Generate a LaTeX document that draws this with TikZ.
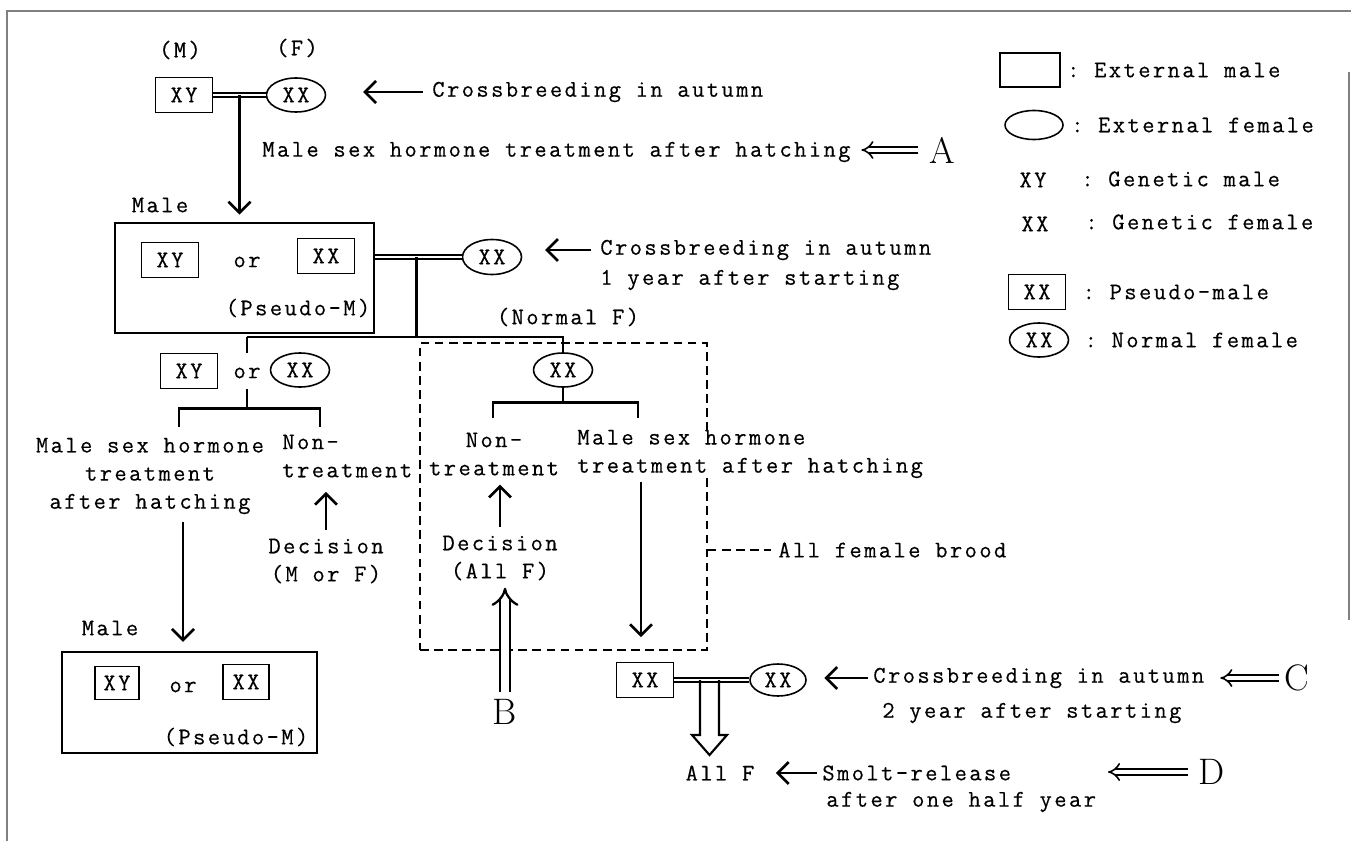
\documentclass[tikz,border=0pt]{standalone}
\usepackage{fontspec}
\setmonofont{Latin Modern Mono}[LetterSpace=10, FakeBold=0.4]
\usetikzlibrary{positioning,calc,shapes.geometric,arrows.meta}

\tikzset{
  txt/.style={font=\ttfamily\fontsize{13.6}{16}\selectfont, inner sep=0pt, align=center},
  gbox/.style={txt, draw, line width=0.9pt, minimum width=1.14cm, minimum height=0.7cm},
  gell/.style={txt, draw, ellipse, line width=0.9pt, minimum width=1.18cm, minimum height=0.68cm},
  malebox/.style={draw, line width=1.6pt, inner sep=0pt},
  treeline/.style={line width=1.6pt},
  arr/.style={line width=1.5pt, -{Straight Barb[length=2.2mm, width=4.4mm]}},
  crossline/.style={double, double distance=1.6pt, line width=0.8pt},
  bigarr/.style={double, double distance=2.6pt, line width=0.9pt, -{Implies}},
  letr/.style={font=\fontsize{21}{21}\selectfont, inner sep=0pt},
  broodline/.style={draw, line width=0.8pt, dash pattern=on 5pt off 3pt},
}

\begin{document}
\begin{tikzpicture}[x=0.02cm, y=-0.02cm]
  \useasboundingbox (0,0) rectangle (1351,841);
  % frame
  \draw[gray, line width=0.8pt] (7,841) -- (7,11) -- (1351,11);
  \draw[gray, line width=0.8pt] (1349,72) -- (1349,620);

  % first crossing
  \node[txt] (mlbl) at (180,50) {(M)};
  \node[txt] (flbl) at (297,48) {(F)};
  \node[gbox] (p1m) at (184,95) {XY};
  \node[gell] (p1f) at (296,95) {XX};
  \draw[crossline] (p1m.east) -- (p1f.west);
  \coordinate (j1) at ($(p1m.east)!0.5!(p1f.west)$);
  \node[txt, anchor=west] (cb1) at (432,92) {Crossbreeding in autumn};
  \draw[arr, shorten <=5pt, shorten >=21pt] (cb1.west) -- (cb1.west -| p1f.east);
  \node[txt, anchor=west] (hormA) at (262,152) {Male sex hormone treatment after hatching};
  \node[letr] (letA) at (942,150) {A};
  \draw[bigarr, shorten <=6pt, shorten >=6pt] (letA.west) -- (letA.west -| hormA.east);

  % first male group
  \node[malebox, minimum width=5.18cm, minimum height=2.2cm] (male1) at (244.5,278) {};
  \node[txt] (male1lbl) at (160,205) {Male};
  \draw[arr, shorten >=4pt] (j1) -- (j1 |- male1.north);
  \node[gbox] (m1xy) at (170,260) {XY};
  \node[txt] (m1or) at (247,262) {or};
  \node[gbox] (m1xx) at (326,256) {XX};
  \node[txt] (m1ps) at (298,308) {(Pseudo-M)};

  % second crossing
  \node[gell, minimum height=0.7cm] (p2f) at (492,257) {XX};
  \draw[crossline] (male1.east |- p2f) -- (p2f.west);
  \coordinate (j2) at ($(male1.east |- p2f)!0.48!(p2f.west)$);
  \node[txt, anchor=west] (cb2) at (600,250) {Crossbreeding in autumn};
  \node[txt, anchor=west] (cb2b) at (600,280) {1 year after starting};
  \draw[arr, shorten <=5pt, shorten >=13pt] (cb2.west) -- (cb2.west -| p2f.east);
  \node[txt] (normF) at (568,317) {(Normal F)};

  % all female brood
  \node[broodline, minimum width=5.74cm, minimum height=6.14cm] (brood) at (563.5,496.5) {};
  \node[gell] (p4f) at (563,370) {XX};

  % left branch
  \node[gbox] (l3m) at (189,371) {XY};
  \node[txt] (l3or) at (247,373) {or};
  \node[gell] (l3f) at (300,370) {XX};
  \draw[treeline] (j2) -- ++(0,80) coordinate (j2b);
  \draw[treeline] (l3or |- j2b) -- (p4f.north |- j2b) -- (p4f.north);
  \draw[treeline] (l3or |- j2b) -- (l3or |- l3m.north);
  \draw[treeline] (l3or |- l3m.south) -- ++(0,19) coordinate (k3);
  \coordinate (t3l) at (179,427);
  \coordinate (t3r) at (320,427);
  \draw[treeline] (t3l) |- (k3) -| (t3r);
  \node[txt] (hl3) at (150,476) {Male sex hormone\\treatment\\after hatching};
  \node[txt, align=left, anchor=west] (nt3) at (282,456) {Non-\\treatment};
  \node[txt] (dec3) at (326,561) {Decision\\(M or F)};
  \draw[arr, shorten <=5pt, shorten >=8pt] (dec3.north) -- (dec3.north |- nt3.south);

  % second male group
  \coordinate (a3) at (183,522);
  \node[malebox, minimum width=5.1cm, minimum height=2.02cm] (male4) at (189.5,702.5) {};
  \draw[arr, shorten >=5pt] (a3) -- (a3 |- male4.north);
  \node[txt] (male4lbl) at (110,628) {Male};
  \node[gbox, minimum width=0.88cm, minimum height=0.66cm] (m4xy) at (117,683) {XY};
  \node[txt] (m4or) at (183,687) {or};
  \node[gbox, minimum width=0.92cm] (m4xx) at (246,682) {XX};
  \node[txt] (m4ps) at (236,737) {(Pseudo-M)};

  % right branch
  \draw[treeline] (p4f.south) -- ++(0,15) coordinate (k4);
  \coordinate (t4l) at (493,418);
  \coordinate (t4r) at (638,418);
  \draw[treeline] (t4l) |- (k4) -| (t4r);
  \node[txt] (nt4) at (494,454) {Non-\\treatment};
  \node[txt, align=left, anchor=west, fill=white] (hl4) at (577,454) {Male sex hormone\\treatment after hatching};
  \node[txt] (dec4) at (500,558) {Decision\\(All F)};
  \draw[arr, shorten <=5pt, shorten >=5pt] (dec4.north) -- (dec4.north |- nt4.south);
  \node[letr] (letB) at (505,712) {B};
  \draw[bigarr, double distance=4pt, line width=1.3pt, shorten <=4pt, shorten >=4pt] (letB.north) -- (letB.north |- dec4.south);
  \node[txt, anchor=west] (brlbl) at (778,550) {All female brood};
  \draw[broodline, shorten >=4pt] (brood.east |- brlbl) -- (brlbl.west);

  % third crossing
  \node[gbox] (p5m) at (645,680) {XX};
  \node[gell, minimum width=1.12cm, minimum height=0.64cm] (p5f) at (778,680) {XX};
  \draw[crossline] (p5m.east) -- (p5f.west);
  \coordinate (j5) at ($(p5m.east)!0.47!(p5f.west)$);
  \coordinate (a4) at (641,482);
  \draw[arr, shorten >=14pt] (a4) -- (a4 |- p5m.north);
  \draw[line width=1.2pt] (j5) ++(-9.5,0) -- ++(0,55) -- ++(-8,0) -- ++(17.5,20) -- ++(17.5,-20) -- ++(-8,0) -- ++(0,-55);
  \node[txt, anchor=west] (cb5) at (873,678) {Crossbreeding in autumn};
  \node[txt, anchor=west] (cb5b) at (882,713) {2 year after starting};
  \draw[arr, shorten <=3pt, shorten >=10pt] (cb5.west) -- (cb5.west -| p5f.east);
  \node[letr] (letC) at (1297,678) {C};
  \draw[bigarr, shorten <=3pt, shorten >=9pt] (letC.west) -- (letC.west -| cb5.east);

  % release
  \node[txt] (allF) at (720,773) {All F};
  \node[txt, anchor=west] (smolt) at (822,773) {Smolt-release};
  \node[txt, anchor=west] (smolt2) at (826,802) {after one half year};
  \draw[arr, shorten <=3pt, shorten >=12pt] (smolt.west) -- (smolt.west -| allF.east);
  \node[letr] (letD) at (1212,772) {D};
  \coordinate (dend) at (1108,772);
  \draw[bigarr, shorten <=6pt] (letD.west) -- (dend);

  % legend
  \node[draw, line width=0.9pt, minimum width=1.2cm, minimum height=0.68cm] (lgm) at (1030,70) {};
  \node[txt, right=0.12cm of lgm] (lgmt) {: External male};
  \node[draw, ellipse, line width=0.9pt, minimum width=1.16cm, minimum height=0.58cm] (lgf) at (1034,125) {};
  \node[txt, right=0.14cm of lgf] (lgft) {: External female};
  \node[txt] (lgxy) at (1033,180) {XY};
  \node[txt, anchor=west] (lgxyt) at (1081,179) {: Genetic male};
  \node[txt] (lgxx) at (1035,224) {XX};
  \node[txt, anchor=west] (lgxxt) at (1085,222) {: Genetic female};
  \node[gbox] (lgpm) at (1037,292) {XX};
  \node[txt, right=0.32cm of lgpm] (lgpmt) {: Pseudo-male};
  \node[gell] (lgnf) at (1039,340) {XX};
  \node[txt, right=0.3cm of lgnf] (lgnft) {: Normal female};
\end{tikzpicture}
\end{document}
